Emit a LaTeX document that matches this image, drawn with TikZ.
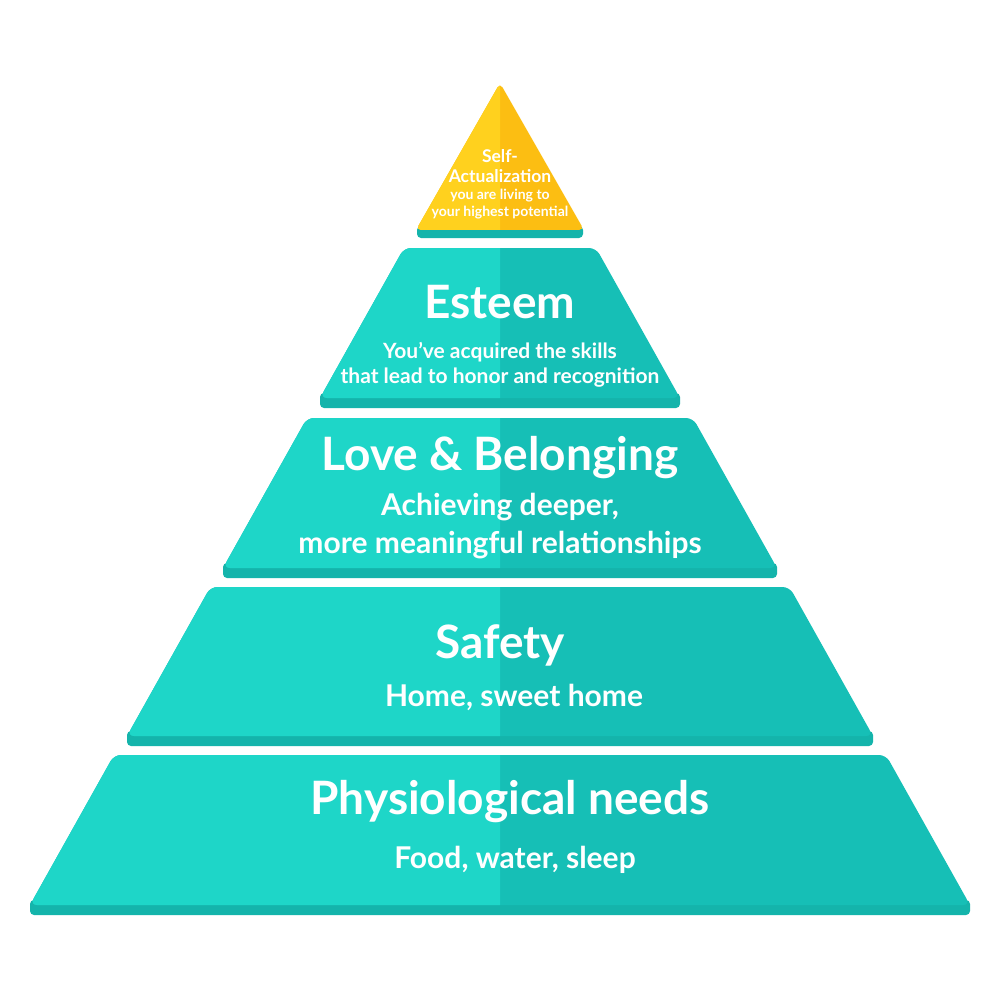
\documentclass[tikz,border=0pt]{standalone}
\usepackage{fontspec}
\setmainfont{Lato}
\definecolor{tealL}{HTML}{1ED6C8}
\definecolor{tealD}{HTML}{16BFB6}
\definecolor{tealS}{HTML}{14B4AB}
\definecolor{yelL}{HTML}{FFD11E}
\definecolor{yelD}{HTML}{FCBE12}
\newcommand\tiershape[3]{({500-#3},#2) -- ({500-#3+0.56*(#2-#1)},#1) -- ({500+#3-0.56*(#2-#1)},#1) -- ({500+#3},#2) -- cycle}
\newcommand\drawtier[3]{%
  \fill[tealS,rounded corners=4pt] ({500-#3},{#2-5}) rectangle ({500+#3},{#2+10});
  \fill[tealD,rounded corners=7pt] \tiershape{#1}{#2}{#3};
  \begin{scope}
    \clip (0,0) rectangle (500,1000);
    \fill[tealL,rounded corners=7pt] \tiershape{#1}{#2}{#3};
  \end{scope}}
\begin{document}
\begin{tikzpicture}[x=1pt,y=-1pt,
  lbl/.style={text=white,inner sep=0pt,align=center,font=\bfseries},
  ttl/.style={lbl,font=\bfseries\fontsize{46}{52}\selectfont},
  sub/.style={lbl,font=\bfseries\fontsize{30}{38}\selectfont}]
\useasboundingbox (0,0) rectangle (1000,1000);
\fill[white] (0,0) rectangle (1000,1000);
% tiers
\drawtier{755}{905}{470}
\drawtier{587}{736}{373}
\drawtier{418}{568}{277}
\drawtier{248}{398}{180}
% top triangle
\fill[tealS,rounded corners=4pt] (417,226) rectangle (583,238);
\fill[yelD,rounded corners=5pt] (416,230) -- (500,83) -- (584,230) -- cycle;
\begin{scope}
  \clip (0,0) rectangle (500,1000);
  \fill[yelL,rounded corners=5pt] (416,230) -- (500,83) -- (584,230) -- cycle;
\end{scope}
% texts
\node[lbl,font=\bfseries\fontsize{17.5}{20}\selectfont] (sa) at (500,166) {Self-\\Actualization};
\node[lbl,font=\bfseries\fontsize{14}{17.5}\selectfont] (sad) at (500,204) {you are living to\\your highest potential};
\node[ttl] (es) at (500,302) {Esteem};
\node[lbl,font=\bfseries\fontsize{21}{25.5}\selectfont] (esd) at (500,365) {You’ve acquired the skills\\that lead to honor and recognition};
\node[ttl] (lb) at (500,458) {Love \& Belonging};
\node[sub] (lbd) at (500,526) {Achieving deeper,\\more meaningful relationships};
\node[ttl] (sf) at (500,645) {Safety};
\node[sub] (sfd) at (514,697) {Home, sweet home};
\node[ttl] (ph) at (510,802) {Physiological needs};
\node[sub] (phd) at (515,860) {Food, water, sleep};
\end{tikzpicture}
\end{document}
